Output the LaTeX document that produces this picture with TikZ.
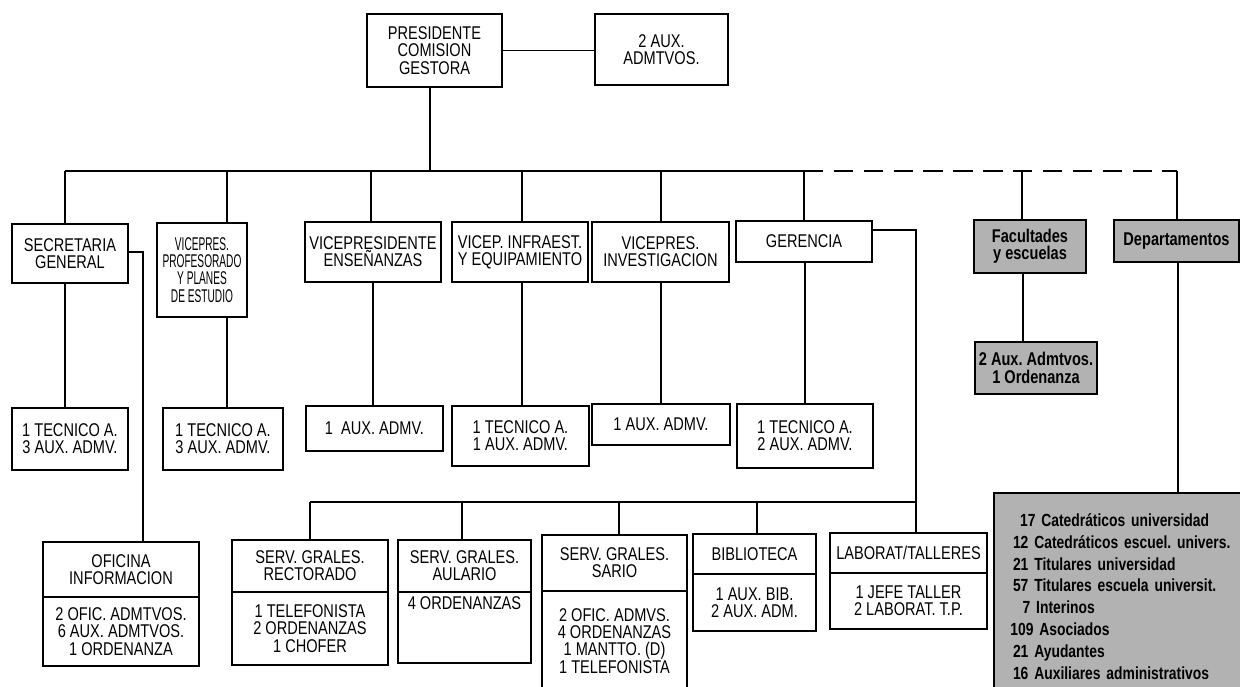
\documentclass[tikz,border=0pt]{standalone}
\usepackage{fontspec}
\setmainfont{Liberation Sans}[FakeStretch=0.79]
\newfontfamily\narrowsans{Liberation Sans}[FakeStretch=0.55]
\usepackage{tikz}
\usetikzlibrary{positioning}
\newcommand\boxfont{\fontsize{10.5}{9.8}\selectfont\frenchspacing}
\newcommand\deptfont{\fontsize{10}{12.4}\selectfont\bfseries\frenchspacing}

\begin{document}
\begin{tikzpicture}[x=0.02cm,y=-0.02cm,
  box/.style={draw,line width=1.1pt,outer sep=0pt,inner sep=1pt,align=center,font=\boxfont},
  sz/.style 2 args={minimum width=#1*0.02cm,minimum height=#2*0.02cm},
  shadedbox/.style={box,fill=black!30,font=\boxfont\bfseries},
  conn/.style={line width=0.9pt},
  dashline/.style={conn,dash pattern=on 11pt off 6pt}]
\useasboundingbox (0,0) rectangle (1240,686);
\clip (0,0) rectangle (1240,686);

\node[box,sz={135}{73}] (pres) at (434.5,50.5) {PRESIDENTE\\COMISION\\GESTORA};
\node[box,sz={133}{71}] (aux) at (661.5,49.5) {2 AUX.\\ADMTVOS.};

\node[box,sz={116}{59}] (secre) at (70,253.5) {SECRETARIA\\GENERAL};
\node[box,sz={90}{94},font=\boxfont\narrowsans] (profe) at (202,270) {VICEPRES.\\PROFESORADO\\Y PLANES\\DE ESTUDIO};
\node[box,sz={136}{60}] (ensen) at (373,252) {VICEPRESIDENTE\\ENSEÑANZAS};
\node[box,sz={136}{60}] (infra) at (520,252) {VICEP. INFRAEST.\\Y EQUIPAMIENTO};
\node[box,sz={137}{60}] (inves) at (660.5,252) {VICEPRES.\\INVESTIGACION};
\node[box,sz={136}{41}] (geren) at (804,241.5) {GERENCIA};
\node[shadedbox,sz={112}{53}] (facul) at (1030,246.5) {Facultades\\y escuelas};
\node[shadedbox,sz={125}{42}] (depar) at (1176.5,241) {Departamentos};

\node[box,sz={116}{62}] (secreA) at (70,439) {1 TECNICO A.\\3 AUX. ADMV.};
\node[box,sz={120}{62}] (profeA) at (223,439) {1 TECNICO A.\\3 AUX. ADMV.};
\node[box,sz={137}{45}] (ensenA) at (374.5,428.5) {1~~AUX. ADMV.};
\node[box,sz={137}{60}] (infraA) at (520.5,436) {1 TECNICO A.\\1 AUX. ADMV.};
\node[box,sz={138}{41}] (invesA) at (661,424.5) {1 AUX. ADMV.};
\node[box,sz={136}{64}] (gerenA) at (805,436) {1 TECNICO A.\\2 AUX. ADMV.};
\node[shadedbox,sz={122}{52}] (faculA) at (1036,368) {2 Aux. Admtvos.\\1 Ordenanza};
\node[shadedbox,anchor=north west,align=left,text width=5.4cm,inner xsep=0.38cm,
  minimum height=207*0.02cm,font=\deptfont] (deparA) at (994,493)
  {\hspace*{4pt}17 Catedráticos universidad\\
   12 Catedráticos escuel. univers.\\
   21 Titulares universidad\\
   57 Titulares escuela universit.\\
   \hspace*{5.5pt}7 Interinos\\
   \hspace*{-1.5pt}109 Asociados\\
   21 Ayudantes\\
   16 Auxiliares administrativos};

\node[box,sz={156}{55}] (ofic) at (121,569.5) {OFICINA\\INFORMACION};
\node[box,sz={156}{69},below=0pt of ofic] (oficA) {2 OFIC. ADMTVOS.\\6 AUX. ADMTVOS.\\1 ORDENANZA};
\node[box,sz={156}{52}] (recto) at (310,566) {SERV. GRALES.\\RECTORADO};
\node[box,sz={156}{73},below=0pt of recto] (rectoA) {1 TELEFONISTA\\2 ORDENANZAS\\1 CHOFER};
\node[box,sz={133}{52}] (aula) at (464.5,566) {SERV. GRALES.\\AULARIO};
\node[box,sz={133}{71},text height=9pt,text depth=29pt,below=0pt of aula] (aulaA) {4 ORDENANZAS};
\node[box,sz={145}{56}] (sario) at (614.5,563) {SERV. GRALES.\\SARIO};
\node[box,sz={145}{100},below=0pt of sario] (sarioA) {2 OFIC. ADMVS.\\4 ORDENANZAS\\1 MANTTO. (D)\\1 TELEFONISTA};
\node[box,sz={123}{40}] (bibli) at (754.5,554) {BIBLIOTECA};
\node[box,sz={123}{57},below=0pt of bibli] (bibliA) {1 AUX. BIB.\\2 AUX. ADM.};
\node[box,sz={157}{40}] (labor) at (908.5,553) {LABORAT/TALLERES};
\node[box,sz={157}{56},below=0pt of labor] (laborA) {1 JEFE TALLER\\2 LABORAT. T.P.};

\draw[conn] (pres.east) -- (aux.west |- pres.east);
\draw[conn] (pres.south -| 430,0) -- (430,171);
\draw[conn] (65,171) -- (804,171);
\draw[dashline] (804,171) -- (1177,171);
\foreach \x/\n in {65/secre,227/profe,371/ensen,522/infra,661/inves,804/geren,1022/facul,1177/depar}
  \draw[conn] (\x,171) -- (\x,171 |- \n.north);
\foreach \x/\a/\b in {65/secre/secreA,227/profe/profeA,373/ensen/ensenA,522/infra/infraA,
  661/inves/invesA,805/geren/gerenA,1023/facul/faculA,1178/depar/deparA}
  \draw[conn] (\x,0 |- \a.south) -- (\x,0 |- \b.north);
\draw[conn] (secre.east |- 0,252) -| (143,0 |- ofic.north);
\draw[conn] (geren.east |- 0,230) -| (916,0 |- labor.north);
\draw[conn] (310,502) -- (916,502);
\foreach \x/\n in {310/recto,462/aula,619/sario,757/bibli}
  \draw[conn] (\x,502) -- (\x,0 |- \n.north);
\end{tikzpicture}
\end{document}
